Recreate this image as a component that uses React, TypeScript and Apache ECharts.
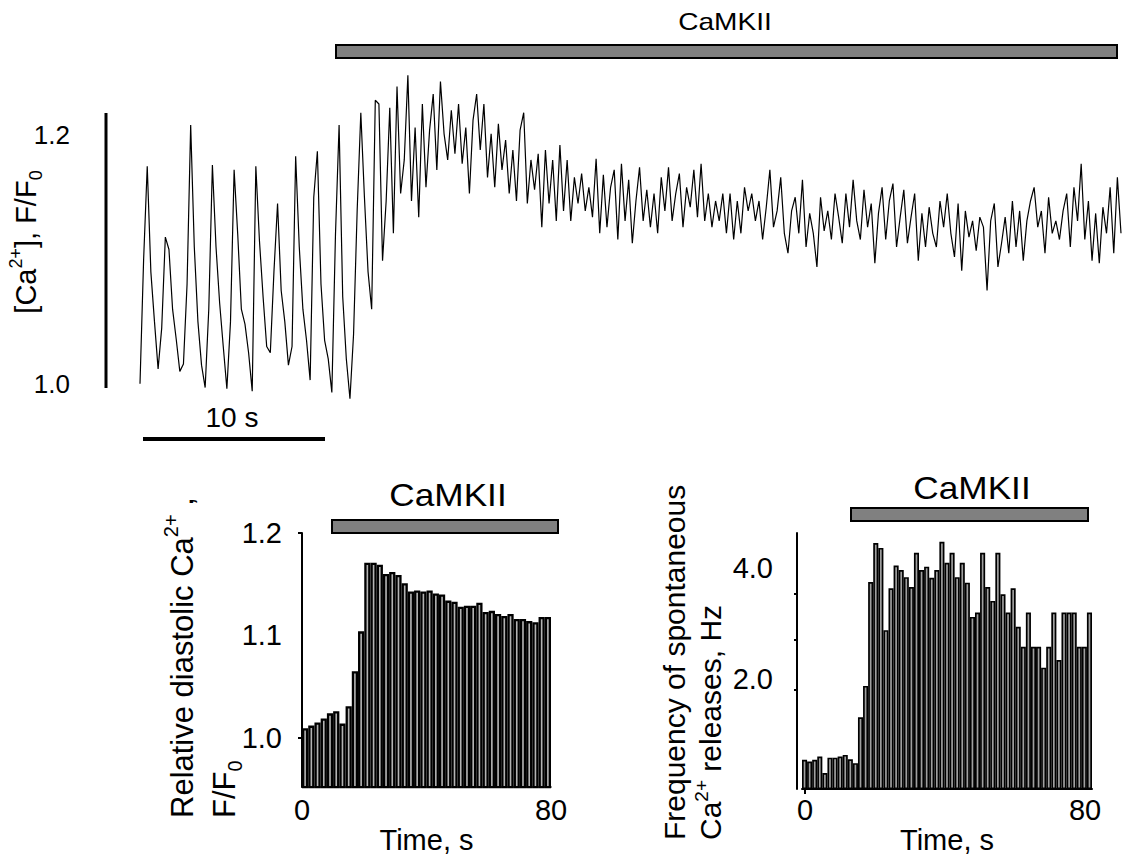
import React, { useEffect, useRef } from "react";
import * as echarts from "echarts";

const FONT = "Liberation Sans, Arial, Helvetica, sans-serif";

// ---- top panel: Ca2+ trace (F/F0), one sample every 0.2 s ----
const traceStep = 0.2;
const traceValues = [
  1.0, 1.1, 1.175, 1.09, 1.05, 1.012, 1.045, 1.118, 1.108, 1.06,
  1.036, 1.01, 1.016, 1.08, 1.208, 1.11, 1.05, 1.015, 0.997, 1.06,
  1.176, 1.11, 1.065, 1.03, 0.996, 1.05, 1.172, 1.12, 1.06, 1.048,
  1.025, 0.994, 1.175, 1.115, 1.07, 1.03, 1.025, 1.09, 1.145, 1.075,
  1.05, 1.015, 1.03, 1.183, 1.11, 1.06, 1.035, 1.003, 1.15, 1.187,
  1.08, 1.035, 1.02, 0.993, 1.12, 1.208, 1.07, 1.02, 0.988, 1.04,
  1.14, 1.218, 1.15, 1.09, 1.06, 1.228, 1.225, 1.099, 1.147, 1.222,
  1.121, 1.239, 1.153, 1.18, 1.248, 1.147, 1.206, 1.134, 1.225, 1.158,
  1.204, 1.233, 1.172, 1.243, 1.201, 1.18, 1.22, 1.185, 1.225, 1.177,
  1.206, 1.153, 1.212, 1.233, 1.188, 1.225, 1.166, 1.201, 1.158, 1.209,
  1.172, 1.196, 1.153, 1.188, 1.147, 1.204, 1.218, 1.145, 1.18, 1.156,
  1.185, 1.126, 1.188, 1.145, 1.18, 1.131, 1.192, 1.139, 1.18, 1.131,
  1.166, 1.145, 1.169, 1.139, 1.158, 1.134, 1.181, 1.121, 1.168, 1.126,
  1.158, 1.172, 1.116, 1.177, 1.131, 1.164, 1.113, 1.147, 1.174, 1.131,
  1.156, 1.126, 1.153, 1.121, 1.166, 1.139, 1.174, 1.131, 1.153, 1.169,
  1.126, 1.158, 1.142, 1.172, 1.134, 1.177, 1.131, 1.153, 1.126, 1.147,
  1.131, 1.153, 1.121, 1.153, 1.116, 1.147, 1.121, 1.158, 1.139, 1.153,
  1.131, 1.147, 1.116, 1.142, 1.172, 1.126, 1.139, 1.166, 1.121, 1.105,
  1.139, 1.15, 1.121, 1.164, 1.11, 1.137, 1.121, 1.094, 1.15, 1.123,
  1.139, 1.116, 1.153, 1.134, 1.113, 1.153, 1.126, 1.164, 1.131, 1.116,
  1.156, 1.126, 1.145, 1.097, 1.137, 1.158, 1.116, 1.147, 1.161, 1.11,
  1.134, 1.156, 1.113, 1.134, 1.153, 1.099, 1.137, 1.11, 1.142, 1.121,
  1.11, 1.147, 1.126, 1.153, 1.121, 1.102, 1.145, 1.091, 1.139, 1.118,
  1.131, 1.107, 1.134, 1.126, 1.075, 1.131, 1.145, 1.094, 1.113, 1.134,
  1.105, 1.147, 1.11, 1.139, 1.099, 1.131, 1.147, 1.158, 1.126, 1.139,
  1.105, 1.15, 1.121, 1.131, 1.116, 1.139, 1.153, 1.11, 1.158, 1.131,
  1.177, 1.116, 1.147, 1.099, 1.137, 1.097, 1.142, 1.121, 1.158, 1.105,
  1.166, 1.121,
];
const traceTickLabels = [1.0, 1.2];

// ---- bottom left: relative diastolic Ca2+ (2 s bins, 0-80 s) ----
const diastolicValues = [
  1.0095, 1.012, 1.015, 1.019, 1.024, 1.026, 1.014, 1.031, 1.065, 1.104,
  1.171, 1.171, 1.169, 1.16, 1.162, 1.159, 1.151, 1.143, 1.144, 1.143,
  1.144, 1.141, 1.14, 1.134, 1.133, 1.128, 1.129, 1.129, 1.132, 1.123,
  1.124, 1.121, 1.119, 1.121, 1.116, 1.116, 1.114, 1.113, 1.118, 1.118,
];
const diastolicTickLabels = [1.0, 1.1, 1.2];

// ---- bottom right: frequency of spontaneous Ca2+ releases, Hz ----
const frequencyValues = [
  0.53, 0.5, 0.53, 0.59, 0.29, 0.57, 0.57, 0.59, 0.62, 0.54, 0.47,
  1.3, 1.87,
  3.75, 4.46, 4.37, 2.88, 3.64, 4.05, 3.97, 3.84, 3.66, 4.28, 3.97, 4.03, 3.83, 3.97, 4.48,
  4.1, 4.28, 3.84, 4.1, 3.74, 3.12, 3.2, 4.28, 3.66, 3.41, 4.28, 3.53, 3.2, 3.64,
  2.94, 2.58, 3.2, 2.58, 2.58, 2.2, 2.58, 3.2, 2.34, 3.2, 3.2, 3.2, 2.58, 2.58, 3.2,
];
const frequencyTickLabels = [2.0, 4.0];
const frequencyTickMarks = [1.8, 2.7, 3.54];

const timeTickLabels = [0, 80];

function rich(size: number, small: number, lh: number) {
  return {
    n: { fontSize: size, fontFamily: FONT, fill: "#000", color: "#000", lineHeight: lh },
    sup: { fontSize: small, fontFamily: FONT, fill: "#000", color: "#000", verticalAlign: "top" },
    sub: { fontSize: small, fontFamily: FONT, fill: "#000", color: "#000", verticalAlign: "bottom" },
  };
}

function txt(x: number, y: number, text: string, size: number, extra: any = {}) {
  return {
    type: "text",
    x,
    y,
    ...extra,
    style: {
      text,
      fontSize: size,
      fontFamily: FONT,
      fill: "#000",
      align: "center",
      textAlign: "center",
      verticalAlign: "middle",
      textVerticalAlign: "middle",
      ...(extra.style || {}),
    },
  };
}

function drugBar(x: number, y: number, w: number, h: number) {
  return {
    type: "rect",
    shape: { x, y, width: w, height: h },
    style: { fill: "#808080", stroke: "#000", lineWidth: 2 },
  };
}

export default function App() {
  const ref = useRef<HTMLDivElement>(null);

  useEffect(() => {
    if (!ref.current) return;
    const chart = echarts.init(ref.current, undefined, { renderer: "svg" });

    const labelStyle = (size: number, margin: number) => ({
      fontSize: size,
      fontFamily: FONT,
      color: "#000",
      margin,
    });

    const option: any = {
      animation: false,
      backgroundColor: "#fff",
      grid: [
        { left: 140, top: 48, width: 981, height: 398 },
        { left: 302, top: 533, width: 249, height: 260 },
        { left: 802, top: 533, width: 290, height: 260 },
      ],
      xAxis: [
        { gridIndex: 0, type: "value", min: 0, max: (traceValues.length - 1) * traceStep, show: false },
        {
          gridIndex: 1,
          type: "category",
          position: "bottom",
          data: diastolicValues.map((_, i) => String(i * 2)),
          show: false,
        },
        {
          gridIndex: 1,
          type: "value",
          position: "bottom",
          min: 0,
          max: 80,
          axisLine: { show: true, onZero: false, lineStyle: { color: "#000", width: 1.5 } },
          axisTick: { show: false },
          splitLine: { show: false },
          axisLabel: { ...labelStyle(29, 8), customValues: timeTickLabels },
          name: "Time, s",
          nameLocation: "middle",
          nameGap: 28,
          nameTextStyle: { fontSize: 29, fontFamily: FONT, color: "#000" },
        },
        {
          gridIndex: 2,
          type: "category",
          position: "bottom",
          data: frequencyValues.map((_, i) => String(i)),
          show: false,
        },
        {
          gridIndex: 2,
          type: "value",
          position: "bottom",
          min: -0.86,
          max: 82,
          axisLine: { show: true, onZero: false, lineStyle: { color: "#000", width: 2 } },
          axisTick: { show: true, customValues: [0], length: 5, lineStyle: { color: "#000", width: 2 } },
          splitLine: { show: false },
          axisLabel: { ...labelStyle(29, 6), customValues: timeTickLabels },
          name: "Time, s",
          nameLocation: "middle",
          nameGap: 17,
          nameTextStyle: { fontSize: 29, fontFamily: FONT, color: "#000" },
        },
      ],
      yAxis: [
        {
          gridIndex: 0,
          type: "value",
          min: 0.95,
          max: 1.27,
          axisLine: { show: false },
          axisTick: { show: false },
          splitLine: { show: false },
          axisLabel: {
            ...labelStyle(26, 70),
            customValues: traceTickLabels,
            formatter: (v: number) => v.toFixed(1),
          },
        },
        {
          gridIndex: 1,
          type: "value",
          min: 0.952,
          max: 1.2,
          axisLine: { show: true, onZero: false, lineStyle: { color: "#000", width: 2 } },
          axisTick: { show: true, customValues: [1.0, 1.2], length: 4, lineStyle: { color: "#000", width: 2 } },
          splitLine: { show: false },
          axisLabel: {
            ...labelStyle(29, 20),
            customValues: diastolicTickLabels,
            formatter: (v: number) => v.toFixed(1),
          },
        },
        {
          gridIndex: 2,
          type: "value",
          min: 0,
          max: 4.64,
          offset: 5,
          axisLine: { show: true, onZero: false, lineStyle: { color: "#000", width: 2 } },
          axisTick: { show: true, customValues: frequencyTickMarks, length: 3, lineStyle: { color: "#000", width: 2 } },
          splitLine: { show: false },
          axisLabel: {
            ...labelStyle(29, 24),
            customValues: frequencyTickLabels,
            formatter: (v: number) => v.toFixed(1),
          },
        },
      ],
      series: [
        {
          type: "line",
          xAxisIndex: 0,
          yAxisIndex: 0,
          data: traceValues.map((v, i) => [Number((i * traceStep).toFixed(1)), v]),
          showSymbol: false,
          symbol: "none",
          lineStyle: { color: "#000", width: 1.2 },
          silent: true,
        },
        {
          type: "bar",
          xAxisIndex: 1,
          yAxisIndex: 1,
          data: diastolicValues,
          barCategoryGap: "0%",
          itemStyle: { color: "#b4b4b4", borderColor: "#000", borderWidth: 2.3 },
          silent: true,
        },
        {
          type: "bar",
          xAxisIndex: 3,
          yAxisIndex: 2,
          data: frequencyValues,
          barCategoryGap: "0%",
          itemStyle: { color: "#a0a0a0", borderColor: "#000", borderWidth: 1.7 },
          silent: true,
        },
      ],
      graphic: [
        // top panel decorations
        txt(725, 22, "CaMKII", 24, { scaleX: 1.17 }),
        drugBar(336, 45, 781, 13),
        { type: "line", shape: { x1: 106, y1: 113, x2: 106, y2: 388 }, style: { stroke: "#000", lineWidth: 3 } },
        { type: "line", shape: { x1: 143, y1: 439, x2: 325, y2: 439 }, style: { stroke: "#000", lineWidth: 4 } },
        txt(232, 417, "10 s", 28),
        {
          type: "text",
          x: 26,
          y: 242,
          rotation: Math.PI / 2,
          style: {
            text: "{n|[Ca}{sup|2+}{n|], F/F}{sub|0}",
            rich: rich(29, 18, 38),
            fontSize: 29,
            fontFamily: FONT,
            fill: "#000",
            align: "center",
            textAlign: "center",
            verticalAlign: "middle",
            textVerticalAlign: "middle",
          },
        },
        // bottom left
        txt(448, 495, "CaMKII", 32, { scaleX: 1.1 }),
        drugBar(332, 520, 226, 13),
        {
          type: "text",
          x: 161,
          y: 818,
          rotation: Math.PI / 2,
          style: {
            text: "{n|Relative diastolic Ca}{sup|2+}{n| ,}\n{n|F/F}{sub|0}",
            rich: rich(31, 20, 42),
            fontSize: 31,
            lineHeight: 42,
            fontFamily: FONT,
            fill: "#000",
            align: "left",
            textAlign: "left",
            verticalAlign: "top",
            textVerticalAlign: "top",
          },
        },
        // bottom right
        txt(972, 488, "CaMKII", 32, { scaleX: 1.1 }),
        drugBar(851, 508, 237, 13),
        {
          type: "text",
          x: 656,
          y: 840,
          rotation: Math.PI / 2,
          style: {
            text: "{n|Frequency of spontaneous}\n{n|Ca}{sup|2+}{n| releases, Hz}",
            rich: rich(30, 19, 36),
            fontSize: 30,
            lineHeight: 36,
            fontFamily: FONT,
            fill: "#000",
            align: "left",
            textAlign: "left",
            verticalAlign: "top",
            textVerticalAlign: "top",
          },
        },
      ],
    };

    chart.setOption(option);
    return () => chart.dispose();
  }, []);

  return (
    <div
      ref={ref}
      style={{ position: "fixed", left: 0, top: 0, width: 1126, height: 855, background: "#fff" }}
    />
  );
}
